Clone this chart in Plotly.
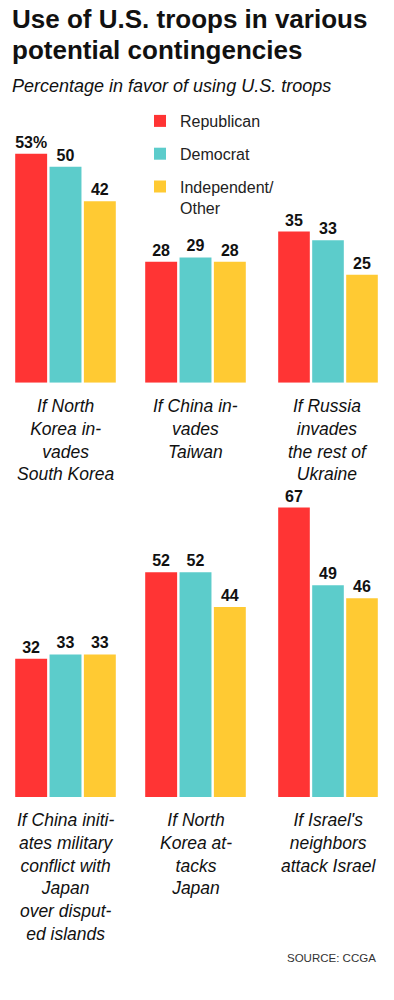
import plotly.graph_objects as go

# ---------------- data ----------------
scenarios = [
    "If North<br>Korea in-<br>vades<br>South Korea",
    "If China in-<br>vades<br>Taiwan",
    "If Russia<br>invades<br>the rest of<br>Ukraine",
    "If China initi-<br>ates military<br>conflict with<br>Japan<br>over disput-<br>ed islands",
    "If North<br>Korea at-<br>tacks<br>Japan",
    "If Israel's<br>neighbors<br>attack Israel",
]
parties = ["Republican", "Democrat", "Independent/<br>Other"]
republican = [53, 28, 35, 32, 52, 67]
democrat = [50, 29, 33, 33, 52, 49]
independent = [42, 28, 25, 33, 44, 46]
colors = ["#FF3434", "#5CCCCB", "#FFCA33"]

title_lines = ["Use of U.S. troops in various", "potential contingencies"]
subtitle_text = "Percentage in favor of using U.S. troops"
source_text = "SOURCE: CCGA"

# ---------------- layout geometry (pixels) ----------------
W, H = 394, 1000
col_px = [(14, 117), (144, 247), (277, 379)]
row_px = [(80, 382.7), (494.3, 797)]
YMAX = 70.07

FONT = "Liberation Sans, Arial, Helvetica, sans-serif"


def px_x(p):
    return p / W


def px_y(p):
    return 1 - p / H


values = [republican, democrat, independent]

fig = go.Figure()
layout_axes = {}
annotations = []

for i, scen in enumerate(scenarios):
    r, c = divmod(i, 3)
    k = i + 1
    xa = "x" if k == 1 else f"x{k}"
    ya = "y" if k == 1 else f"y{k}"
    for j, party in enumerate(parties):
        v = values[j][i]
        label = f"{v}%" if (i == 0 and j == 0) else str(v)
        fig.add_trace(go.Bar(
            x=[j], y=[v], xaxis=xa, yaxis=ya,
            name=party, legendgroup=party, showlegend=(i == 0),
            marker=dict(color=colors[j], line=dict(width=0)),
            text=[label], textposition="outside", cliponaxis=False,
            textfont=dict(family=FONT, size=16, color="#111111", weight="bold"),
            hoverinfo="skip",
        ))
    x0, x1 = col_px[c]
    y0, y1 = row_px[r]
    layout_axes["xaxis" if k == 1 else f"xaxis{k}"] = dict(
        domain=[px_x(x0), px_x(x1)], range=[-0.5, 2.5], anchor=ya,
        showticklabels=False, showgrid=False, zeroline=False, showline=False,
        fixedrange=True)
    layout_axes["yaxis" if k == 1 else f"yaxis{k}"] = dict(
        domain=[px_y(y1), px_y(y0)], range=[0, YMAX], anchor=xa,
        showticklabels=False, showgrid=False, zeroline=False, showline=False,
        fixedrange=True)
    annotations.append(dict(
        text=scen, xref="paper", yref="paper",
        x=px_x((x0 + x1) / 2), y=px_y(y1 + 11), xanchor="center", yanchor="top",
        showarrow=False, align="center",
        font=dict(family=FONT, size=17.5, color="#111111", style="italic")))

# title lines
for n, line in enumerate(title_lines):
    annotations.append(dict(
        text=line, xref="paper", yref="paper",
        x=px_x(10), y=px_y(19 + 31 * n), xanchor="left", yanchor="middle",
        showarrow=False,
        font=dict(family=FONT, size=26, color="#111111", weight="bold")))

annotations.append(dict(
    text=subtitle_text, xref="paper", yref="paper",
    x=px_x(10), y=px_y(74), xanchor="left", yanchor="top", showarrow=False,
    font=dict(family=FONT, size=18, color="#111111", style="italic")))
annotations.append(dict(
    text=source_text, xref="paper", yref="paper",
    x=px_x(378), y=px_y(958), xanchor="right", yanchor="middle", showarrow=False,
    font=dict(family=FONT, size=11.5, color="#333333")))

fig.update_layout(
    width=W, height=H,
    margin=dict(l=0, r=0, t=0, b=0),
    paper_bgcolor="white", plot_bgcolor="white",
    barmode="relative", bargap=0.07,
    legend=dict(x=px_x(140), y=px_y(104), xanchor="left", yanchor="top",
                font=dict(family=FONT, size=16, color="#222222"),
                tracegroupgap=9, valign="top", bgcolor="rgba(0,0,0,0)",
                traceorder="grouped"),
    annotations=annotations,
    font=dict(family=FONT),
    **layout_axes,
)

fig.write_html("out.html",
               config={"displayModeBar": False, "staticPlot": True},
               post_script="document.body.style.margin='0';document.body.style.padding='0';")
